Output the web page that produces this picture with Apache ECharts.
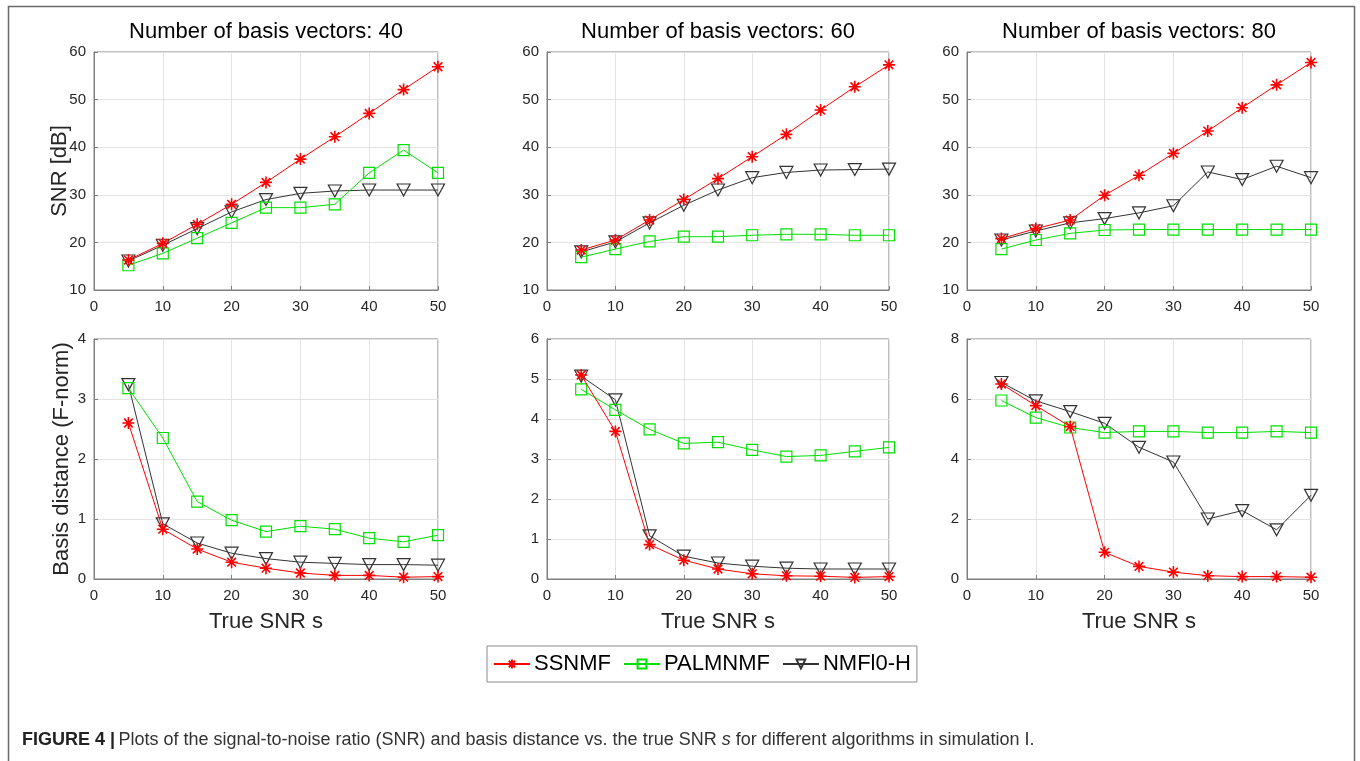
<!DOCTYPE html>
<html>
<head>
<meta charset="utf-8">
<script src="https://cdn.jsdelivr.net/npm/echarts@6.0.0/dist/echarts.min.js"></script>
<style>html,body{margin:0;padding:0;background:#fff;}#c{width:1360px;height:761px;}</style>
</head>
<body>
<div id="c"></div>
<script>
// ---- data ----
const trueSNR = [5, 10, 15, 20, 25, 30, 35, 40, 45, 50];
const xTicks = [0, 10, 20, 30, 40, 50];
const basisCounts = [40, 60, 80];
const seriesNames = ['SSNMF', 'PALMNMF', 'NMFl0-H'];

// SNR [dB]
const snrSSNMF40 = [16.3, 19.8, 23.8, 28.0, 32.6, 37.5, 42.2, 47.1, 52.1, 56.9];
const snrPALM40  = [15.2, 17.7, 20.9, 24.1, 27.3, 27.3, 28.0, 34.6, 39.4, 34.6];
const snrNMF40   = [16.1, 19.4, 22.9, 26.4, 29.0, 30.3, 30.8, 31.0, 31.0, 31.0];

const snrSSNMF60 = [18.4, 20.5, 24.7, 29.0, 33.4, 38.0, 42.7, 47.8, 52.7, 57.3];
const snrPALM60  = [16.9, 18.6, 20.2, 21.2, 21.2, 21.5, 21.7, 21.7, 21.5, 21.5];
const snrNMF60   = [18.0, 20.1, 24.1, 27.8, 31.0, 33.6, 34.7, 35.2, 35.3, 35.4];

const snrSSNMF80 = [20.8, 22.9, 24.7, 29.9, 34.1, 38.7, 43.4, 48.3, 53.1, 57.8];
const snrPALM80  = [18.6, 20.5, 21.9, 22.6, 22.7, 22.7, 22.7, 22.7, 22.7, 22.7];
const snrNMF80   = [20.5, 22.4, 24.1, 25.0, 26.2, 27.7, 34.8, 33.2, 36.0, 33.6];

// Basis distance (F-norm)
const bdSSNMF40 = [2.60, 0.83, 0.50, 0.28, 0.18, 0.10, 0.06, 0.06, 0.03, 0.04];
const bdPALM40  = [3.18, 2.35, 1.29, 0.98, 0.79, 0.88, 0.83, 0.68, 0.62, 0.73];
const bdNMF40   = [3.24, 0.92, 0.60, 0.43, 0.34, 0.28, 0.26, 0.24, 0.24, 0.23];

const bdSSNMF60 = [5.10, 3.69, 0.86, 0.47, 0.25, 0.13, 0.08, 0.07, 0.04, 0.06];
const bdPALM60  = [4.74, 4.23, 3.74, 3.39, 3.42, 3.23, 3.06, 3.09, 3.19, 3.29];
const bdNMF60   = [5.07, 4.48, 1.08, 0.57, 0.40, 0.32, 0.27, 0.25, 0.25, 0.25];

const bdSSNMF80 = [6.50, 5.78, 5.08, 0.89, 0.42, 0.23, 0.11, 0.08, 0.08, 0.06];
const bdPALM80  = [5.95, 5.38, 5.05, 4.88, 4.92, 4.92, 4.88, 4.88, 4.92, 4.88];
const bdNMF80   = [6.55, 5.94, 5.58, 5.19, 4.39, 3.90, 2.00, 2.28, 1.64, 2.79];

const snrYTicks = [10, 20, 30, 40, 50, 60];
const bdYMax = [4, 6, 8];
const bdYInterval = [1, 1, 2];

// ---- layout ----
const colLeft = [94, 547, 967];
const colWidth = [344, 342, 344];
const rowTop = [52, 339];
const rowHeight = [238, 240];

const colors = ['#ff0000', '#00e000', '#333333'];
const symbols = [
  'path://M0,-1L0,1M-1,0L1,0M-0.72,-0.72L0.72,0.72M-0.72,0.72L0.72,-0.72',
  'path://M-1,-1L1,-1L1,1L-1,1Z',
  'path://M-1,-0.85L1,-0.85L0,0.9Z'
];
const symSizes = [12, 11, [13, 12]];

const snrSets = [
  [snrSSNMF40, snrPALM40, snrNMF40],
  [snrSSNMF60, snrPALM60, snrNMF60],
  [snrSSNMF80, snrPALM80, snrNMF80]
];
const bdSets = [
  [bdSSNMF40, bdPALM40, bdNMF40],
  [bdSSNMF60, bdPALM60, bdNMF60],
  [bdSSNMF80, bdPALM80, bdNMF80]
];

const grids = [], xAxes = [], yAxes = [], series = [];
const axisGray = '#7f7f7f';
const labelColor = '#262626';
const FONT = '"Liberation Sans", Arial, sans-serif';

for (let r = 0; r < 2; r++) {
  for (let c = 0; c < 3; c++) {
    const gi = grids.length;
    grids.push({
      left: colLeft[c], top: rowTop[r], width: colWidth[c], height: rowHeight[r],
      show: true, borderColor: axisGray, borderWidth: 1, backgroundColor: 'transparent'
    });
    xAxes.push({
      gridIndex: gi, type: 'value', min: 0, max: 50, interval: 10,
      axisLine: { show: true, lineStyle: { color: axisGray, width: 1 } },
      axisTick: { show: true, inside: true, length: 4, lineStyle: { color: axisGray } },
      axisLabel: { color: labelColor, fontSize: 15, fontFamily: FONT, margin: 9 },
      splitLine: { show: true, lineStyle: { color: '#e3e3e3', width: 1 } }
    });
    const yMin = r === 0 ? 10 : 0;
    const yMax = r === 0 ? 60 : bdYMax[c];
    const yInt = r === 0 ? 10 : bdYInterval[c];
    yAxes.push({
      gridIndex: gi, type: 'value', min: yMin, max: yMax, interval: yInt,
      axisLine: { show: true, lineStyle: { color: axisGray, width: 1 } },
      axisTick: { show: true, inside: true, length: 4, lineStyle: { color: axisGray } },
      axisLabel: { color: labelColor, fontSize: 15, fontFamily: FONT, margin: 8 },
      splitLine: { show: true, lineStyle: { color: '#e3e3e3', width: 1 } }
    });
    const sets = r === 0 ? snrSets[c] : bdSets[c];
    for (let k = 0; k < 3; k++) {
      series.push({
        name: seriesNames[k], type: 'line', xAxisIndex: gi, yAxisIndex: gi,
        data: trueSNR.map((x, i) => [x, sets[k][i]]),
        symbol: symbols[k], symbolSize: symSizes[k], showAllSymbol: true,
        lineStyle: { color: colors[k], width: 1 },
        itemStyle: { color: 'rgba(0,0,0,0)', borderColor: colors[k], borderWidth: k === 0 ? 1.6 : 1.2 },
        emphasis: { disabled: true }, silent: true, animation: false,
        z: 3 - k
      });
    }
  }
}

const graphics = [
  { type: 'rect', shape: { x: 8.5, y: 6.5, width: 1346, height: 800 }, style: { fill: 'none', stroke: '#6a6a6a', lineWidth: 1.5 }, silent: true }
];
for (let c = 0; c < 3; c++) {
  const cx = colLeft[c] + colWidth[c] / 2;
  graphics.push({ type: 'text', x: cx, y: 32, style: { text: 'Number of basis vectors: ' + basisCounts[c], font: '22px ' + FONT, fill: '#000', textAlign: 'center', textVerticalAlign: 'middle' } });
  graphics.push({ type: 'text', x: cx, y: 622, style: { text: 'True SNR s', font: '22px ' + FONT, fill: '#262626', textAlign: 'center', textVerticalAlign: 'middle' } });
}
graphics.push({ type: 'text', x: 60, y: rowTop[0] + rowHeight[0] / 2, rotation: Math.PI / 2, style: { text: 'SNR [dB]', font: '22px ' + FONT, fill: '#262626', textAlign: 'center', textVerticalAlign: 'middle' } });
graphics.push({ type: 'text', x: 62, y: rowTop[1] + rowHeight[1] / 2, rotation: Math.PI / 2, style: { text: 'Basis distance (F-norm)', font: '22px ' + FONT, fill: '#262626', textAlign: 'center', textVerticalAlign: 'middle' } });
graphics.push({
  type: 'text', x: 22, y: 740,
  style: {
    text: '{b|FIGURE 4 |} {n|Plots of the signal-to-noise ratio (SNR) and basis distance vs. the true SNR }{i|s}{n| for different algorithms in simulation I.}',
    textVerticalAlign: 'middle',
    rich: {
      b: { fontWeight: 'bold', fontSize: 18, fontFamily: FONT, fill: '#222' },
      n: { fontSize: 18, fontFamily: FONT, fill: '#333' },
      i: { fontStyle: 'italic', fontSize: 18, fontFamily: FONT, fill: '#333' }
    }
  }
});

const chart = echarts.init(document.getElementById('c'), null, { renderer: 'canvas' });
chart.setOption({
  backgroundColor: '#fff',
  animation: false,
  grid: grids, xAxis: xAxes, yAxis: yAxes, series: series,
  legend: {
    data: seriesNames, left: 487, top: 646, orient: 'horizontal',
    itemWidth: 36, itemHeight: 11, itemGap: 12,
    padding: [7, 6, 7, 6],
    borderColor: '#8c8c8c', borderWidth: 1, backgroundColor: '#fff',
    textStyle: { fontSize: 22, fontFamily: FONT, color: '#000', padding: [0, 0, 0, -1] },
    selectedMode: false
  },
  graphic: graphics
});
</script>
</body>
</html>
